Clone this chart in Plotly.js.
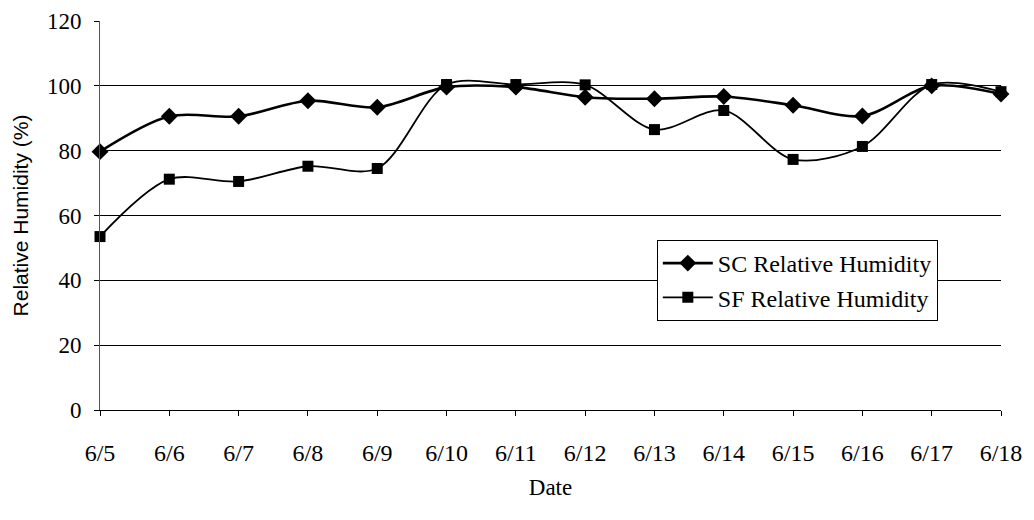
<!DOCTYPE html>
<html>
<head>
<meta charset="utf-8">
<script src="https://cdn.plot.ly/plotly-3.0.1.min.js"></script>
<style>
html,body{margin:0;padding:0;background:#fff;}
#chart{width:1034px;height:520px;}
</style>
</head>
<body>
<div id="chart"></div>
<script>
const dates = ["6/5","6/6","6/7","6/8","6/9","6/10","6/11","6/12","6/13","6/14","6/15","6/16","6/17","6/18"];
const scHumidity = [79.7, 90.6, 90.6, 95.4, 93.4, 99.6, 99.6, 96.5, 96.0, 96.7, 94.0, 90.7, 100.0, 97.5];
const sfHumidity = [53.5, 71.2, 70.5, 75.2, 74.5, 100.4, 100.4, 100.3, 86.5, 92.4, 77.3, 81.3, 100.4, 98.2];
const yTicks = [0, 20, 40, 60, 80, 100, 120];
const gridTicks = [20, 40, 60, 80, 100];

const serif = "Liberation Serif, Times New Roman, serif";

const traces = [
  {
    x: dates, y: scHumidity, name: "SC Relative Humidity",
    type: "scatter", mode: "lines+markers",
    line: {color: "#000", width: 2.6, shape: "spline", smoothing: 0.9},
    marker: {symbol: "diamond", size: 13, color: "#000"},
    cliponaxis: false
  },
  {
    x: dates, y: sfHumidity, name: "SF Relative Humidity",
    type: "scatter", mode: "lines+markers",
    line: {color: "#000", width: 1.8, shape: "spline", smoothing: 0.9},
    marker: {symbol: "square", size: 11, color: "#000"},
    cliponaxis: false
  },
  {
    x: dates, y: scHumidity, yaxis: "y2", showlegend: false, hoverinfo: "skip",
    type: "scatter", mode: "none"
  }
];

const layout = {
  width: 1034, height: 520,
  margin: {l: 100, r: 33, t: 21, b: 110},
  paper_bgcolor: "#fff", plot_bgcolor: "rgba(0,0,0,0)",
  showlegend: true,
  font: {family: serif, color: "#000", size: 22},
  xaxis: {
    type: "category", categoryorder: "array", categoryarray: dates,
    range: [0, 13],
    showgrid: false, zeroline: false,
    showline: true, linecolor: "#000", linewidth: 1,
    ticks: "outside", ticklen: 5, tickcolor: "#000", tickwidth: 1,
    ticklabelstandoff: 16,
    tickfont: {family: serif, size: 24, color: "#000"},
    title: {text: "Date", font: {family: serif, size: 23, color: "#000"}, standoff: 14},
    automargin: false
  },
  yaxis: {
    range: [0, 120], tickvals: yTicks,
    showgrid: false, zeroline: false,
    showline: true, linecolor: "#555", linewidth: 1,
    ticks: "outside", ticklen: 5, tickcolor: "#000", tickwidth: 1,
    ticklabelstandoff: 8,
    tickfont: {family: serif, size: 23, color: "#000"},
    title: {text: "Relative Humidity (%)", font: {family: "Liberation Sans, Arial, sans-serif", size: 21, color: "#000"}, standoff: 12},
    automargin: false
  },
  yaxis2: {
    overlaying: "y", range: [0, 120], tickvals: gridTicks,
    showgrid: true, gridcolor: "#000", gridwidth: 1,
    showticklabels: false, ticks: "", zeroline: false, showline: false
  },
  legend: {
    x: 0.618, y: 0.437, xanchor: "left", yanchor: "top",
    bgcolor: "#fff", bordercolor: "#000", borderwidth: 1,
    font: {family: serif, size: 24, color: "#000"},
    itemwidth: 50, tracegroupgap: 0
  }
};

Plotly.newPlot("chart", traces, layout, {displayModeBar: false, staticPlot: true});
</script>
</body>
</html>
